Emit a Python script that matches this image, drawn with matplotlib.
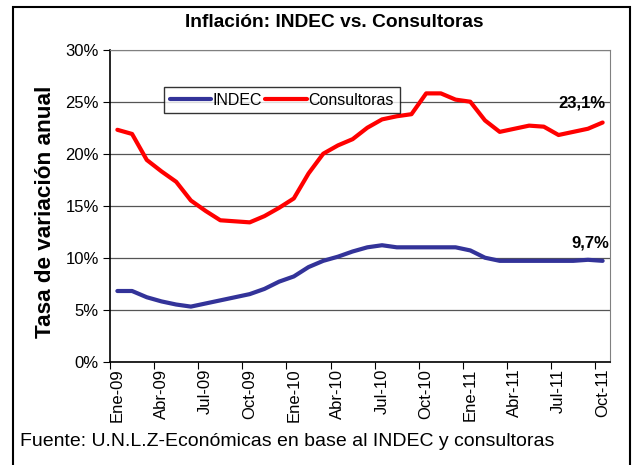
import matplotlib.pyplot as plt
from matplotlib.patches import Rectangle
from matplotlib.ticker import FuncFormatter

plt.rcParams['font.family'] = ['Liberation Sans', 'DejaVu Sans']

# Monthly series, Ene-09 .. Oct-11
months = ['Ene-09', 'Feb-09', 'Mar-09', 'Abr-09', 'May-09', 'Jun-09', 'Jul-09', 'Ago-09', 'Sep-09',
          'Oct-09', 'Nov-09', 'Dic-09', 'Ene-10', 'Feb-10', 'Mar-10', 'Abr-10', 'May-10', 'Jun-10',
          'Jul-10', 'Ago-10', 'Sep-10', 'Oct-10', 'Nov-10', 'Dic-10', 'Ene-11', 'Feb-11', 'Mar-11',
          'Abr-11', 'May-11', 'Jun-11', 'Jul-11', 'Ago-11', 'Sep-11', 'Oct-11']
indec = [6.8, 6.8, 6.2, 5.8, 5.5, 5.3, 5.6, 5.9, 6.2, 6.5, 7.0, 7.7, 8.2, 9.1, 9.7, 10.1, 10.6,
         11.0, 11.2, 11.0, 11.0, 11.0, 11.0, 11.0, 10.7, 10.0, 9.7, 9.7, 9.7, 9.7, 9.7, 9.7, 9.8, 9.7]
consultoras = [22.3, 21.9, 19.4, 18.3, 17.3, 15.5, 14.5, 13.6, 13.5, 13.4, 14.0, 14.8, 15.7, 18.1,
               20.0, 20.8, 21.4, 22.5, 23.3, 23.6, 23.8, 25.8, 25.8, 25.2, 25.0, 23.2, 22.1, 22.4,
               22.7, 22.6, 21.8, 22.1, 22.4, 23.0]

fig = plt.figure(figsize=(6.37, 4.65), dpi=100)
ax = fig.add_axes([0.1727, 0.2221, 0.7849, 0.671])

x = list(range(len(months)))
ax.plot(x, indec, color='#333399', lw=3, label='INDEC', solid_capstyle='round')
ax.plot(x, consultoras, color='#ff0000', lw=3, label='Consultoras', solid_capstyle='round')

ax.set_xlim(-0.5, len(months) - 0.5)
ax.set_ylim(0, 30)
ax.set_yticks(range(0, 31, 5))
ax.yaxis.set_major_formatter(FuncFormatter(lambda v, p: f'{v:.0f}%'))
ax.grid(axis='y', color='#555555', lw=0.9)
ax.set_axisbelow(True)

# ticks between categories every 3 months, labels on category centres
ax.set_xticks([i - 0.5 for i in range(0, len(months), 3)])
ax.set_xticklabels([])
ax.set_xticks(x[::3], minor=True)
ax.set_xticklabels(months[::3], minor=True, rotation=90, fontsize=12)
ax.tick_params(axis='x', which='minor', length=0, pad=5)
ax.tick_params(axis='x', which='major', length=5, direction='out', color='black')
ax.tick_params(axis='y', length=5, direction='out', labelsize=12, pad=3)

for s in ['top', 'right']:
    ax.spines[s].set_color('#808080')
for s in ['left', 'bottom']:
    ax.spines[s].set_color('black')
    ax.spines[s].set_linewidth(1.2)

ax.set_ylabel('Tasa de variación anual', fontsize=16.2, fontweight='bold')
ax.yaxis.set_label_coords(-0.108, 0.48)

leg = ax.legend(loc='upper left', bbox_to_anchor=(0.108, 0.88), ncol=2, frameon=True,
                fancybox=False, edgecolor='black', fontsize=11.5, handlelength=2.6,
                handletextpad=0.1, columnspacing=0.2, borderpad=0.35, borderaxespad=0)
leg.get_frame().set_linewidth(1.0)

ax.annotate(f'{consultoras[-1] + 0.1:.1f}%'.replace('.', ','), (x[-1], consultoras[-1]),
            xytext=(2, 14), textcoords='offset points', ha='right', va='center',
            fontsize=12, fontweight='bold')
ax.annotate(f'{indec[-1]:.1f}%'.replace('.', ','), (x[-1], indec[-1]),
            xytext=(5, 13), textcoords='offset points', ha='right', va='center',
            fontsize=12, fontweight='bold')

fig.text(0.524, 0.952, 'Inflación: INDEC vs. Consultoras', ha='center', va='center',
         fontsize=13.8, fontweight='bold')
fig.text(0.031, 0.051, 'Fuente: U.N.L.Z-Económicas en base al INDEC y consultoras',
         ha='left', va='center', fontsize=14)

fig.patches.append(Rectangle((13 / 637, -0.05), (630 - 13) / 637, 1.05 - 7 / 465,
                             transform=fig.transFigure, fill=False, edgecolor='black', lw=1.5))

fig.savefig('out.png', dpi=100)
